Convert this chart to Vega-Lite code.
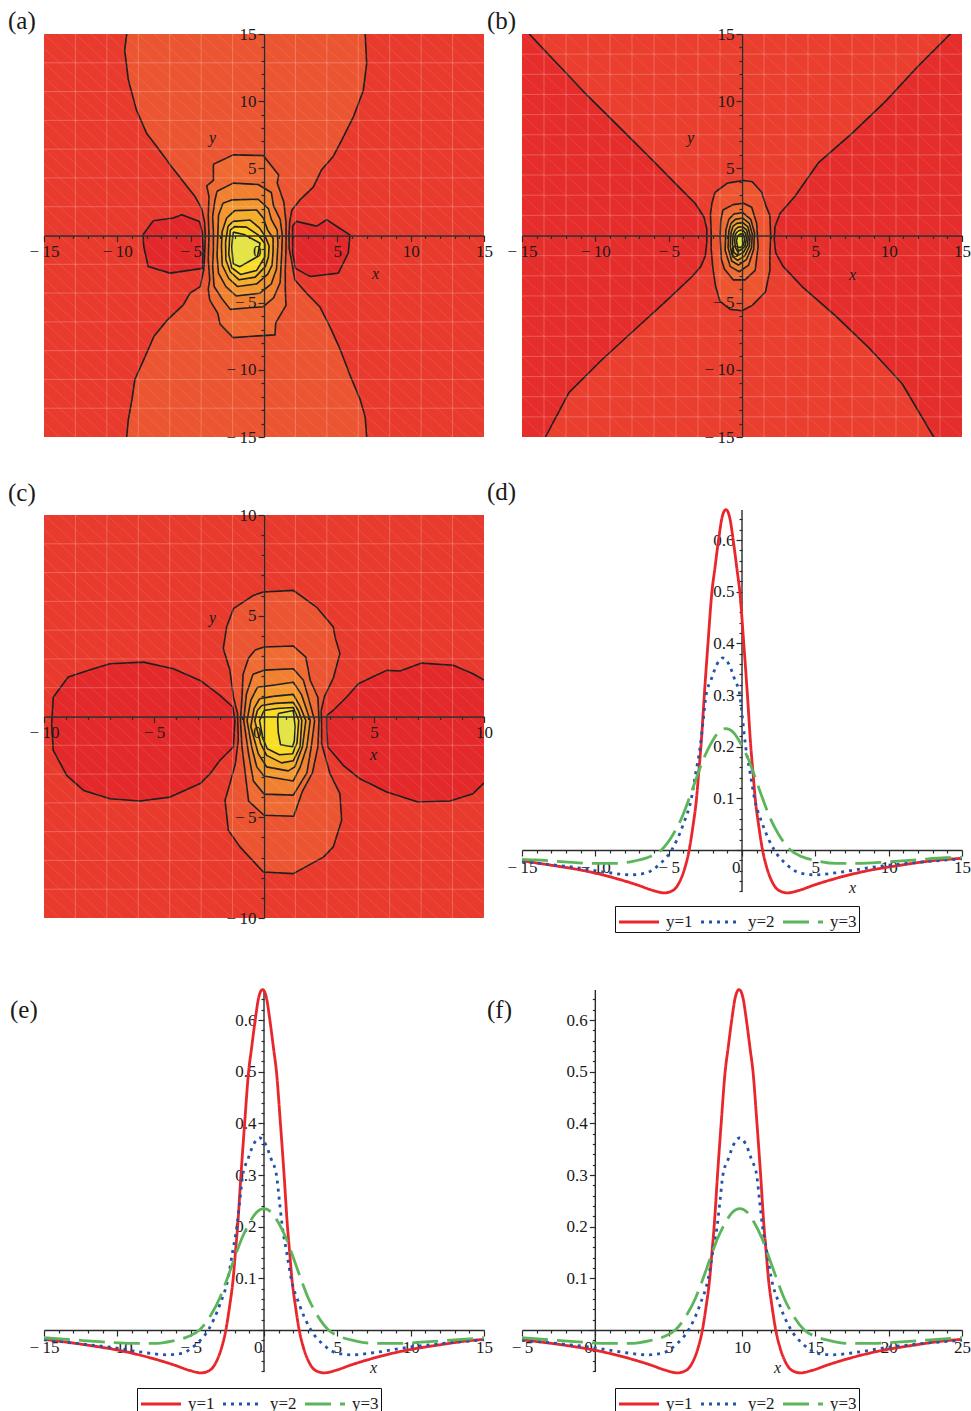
{
  "$schema": "https://vega.github.io/schema/vega-lite/v6.json",
  "padding": {"left": 8, "top": 9, "right": 2, "bottom": 2},
  "background": "white",
  "columns": 2,
  "spacing": {"row": 78, "column": 38},
  "bounds": "flush",
  "resolve": {
    "scale": {"fill": "independent", "color": "independent", "strokeDash": "independent"},
    "legend": {"color": "independent", "strokeDash": "independent", "fill": "independent"}
  },
  "config": {
    "font": "Liberation Serif",
    "view": {"stroke": null},
    "axis": {
      "grid": false, "labelFont": "Liberation Serif", "labelFontSize": 17, "labelColor": "#1a1a1a",
      "domainColor": "#2a2a2a", "tickColor": "#2a2a2a", "domainWidth": 1.4, "tickWidth": 1.2,
      "titleFont": "Liberation Serif", "titleFontStyle": "italic", "titleFontWeight": "normal",
      "titleFontSize": 16, "titleColor": "#1a1a1a", "titleAlign": "center", "titleBaseline": "middle"
    },
    "title": {"font": "Liberation Serif", "fontSize": 25, "fontWeight": "normal", "color": "#1a1a1a", "anchor": "start", "frame": "group", "baseline": "alphabetic"},
    "legend": {"labelFont": "Liberation Serif", "labelFontSize": 17, "labelColor": "#1a1a1a"}
  },
  "datasets": {
    "polyA": [
      {"p":"a01","b":"h","o":0,"x":-9.4,"y":16},{"p":"a01","b":"h","o":1,"x":-9.36,"y":15},{"p":"a01","b":"h","o":2,"x":-9.5,"y":13.8},{"p":"a01","b":"h","o":3,"x":-9.25,"y":11.6},{"p":"a01","b":"h","o":4,"x":-8.7,"y":9.35},{"p":"a01","b":"h","o":5,"x":-8.0,"y":7.6},{"p":"a01","b":"h","o":6,"x":-7.3,"y":6.6},{"p":"a01","b":"h","o":7,"x":-6.4,"y":5.26},{"p":"a01","b":"h","o":8,"x":-5.5,"y":4.0},{"p":"a01","b":"h","o":9,"x":-4.7,"y":2.9},{"p":"a01","b":"h","o":10,"x":-4.25,"y":2.0},{"p":"a01","b":"h","o":11,"x":-4.05,"y":1.0},{"p":"a01","b":"h","o":12,"x":-4.0,"y":0},{"p":"a01","b":"h","o":13,"x":-4.05,"y":-1.5},{"p":"a01","b":"h","o":14,"x":-4.1,"y":-2.5},{"p":"a01","b":"h","o":15,"x":-4.35,"y":-3.8},{"p":"a01","b":"h","o":16,"x":-5.05,"y":-4.3},{"p":"a01","b":"h","o":17,"x":-5.5,"y":-5.16},{"p":"a01","b":"h","o":18,"x":-6.6,"y":-6.3},{"p":"a01","b":"h","o":19,"x":-7.5,"y":-7.5},{"p":"a01","b":"h","o":20,"x":-8.2,"y":-9.25},{"p":"a01","b":"h","o":21,"x":-8.8,"y":-10.7},{"p":"a01","b":"h","o":22,"x":-9.0,"y":-12.2},{"p":"a01","b":"h","o":23,"x":-9.25,"y":-13.7},{"p":"a01","b":"h","o":24,"x":-9.36,"y":-15},{"p":"a01","b":"h","o":25,"x":-9.4,"y":-16},{"p":"a01","b":"h","o":26,"x":7.0,"y":-16},{"p":"a01","b":"h","o":27,"x":7.0,"y":-15},{"p":"a01","b":"h","o":28,"x":6.9,"y":-13.5},{"p":"a01","b":"h","o":29,"x":6.55,"y":-12.2},{"p":"a01","b":"h","o":30,"x":5.9,"y":-10.5},{"p":"a01","b":"h","o":31,"x":5.2,"y":-8.5},{"p":"a01","b":"h","o":32,"x":4.5,"y":-6.8},{"p":"a01","b":"h","o":33,"x":3.8,"y":-5.3},{"p":"a01","b":"h","o":34,"x":2.9,"y":-4.3},{"p":"a01","b":"h","o":35,"x":2.1,"y":-3.3},{"p":"a01","b":"h","o":36,"x":1.9,"y":-2.0},{"p":"a01","b":"h","o":37,"x":1.72,"y":-1.0},{"p":"a01","b":"h","o":38,"x":1.7,"y":0},{"p":"a01","b":"h","o":39,"x":1.75,"y":1.0},{"p":"a01","b":"h","o":40,"x":1.9,"y":1.9},{"p":"a01","b":"h","o":41,"x":2.45,"y":2.65},{"p":"a01","b":"h","o":42,"x":3.36,"y":3.6},{"p":"a01","b":"h","o":43,"x":3.93,"y":4.9},{"p":"a01","b":"h","o":44,"x":4.73,"y":5.9},{"p":"a01","b":"h","o":45,"x":5.3,"y":7.1},{"p":"a01","b":"h","o":46,"x":6.1,"y":8.85},{"p":"a01","b":"h","o":47,"x":6.77,"y":10.8},{"p":"a01","b":"h","o":48,"x":7.0,"y":12.8},{"p":"a01","b":"h","o":49,"x":6.9,"y":15},{"p":"a01","b":"h","o":50,"x":6.9,"y":16},{"p":"a01","b":"h","o":51,"x":-9.4,"y":16},
      {"p":"a02","b":"m","o":0,"x":-8.25,"y":0.05},{"p":"a02","b":"m","o":1,"x":-7.55,"y":1.1},{"p":"a02","b":"m","o":2,"x":-6.2,"y":1.3},{"p":"a02","b":"m","o":3,"x":-5.6,"y":1.55},{"p":"a02","b":"m","o":4,"x":-4.4,"y":1.05},{"p":"a02","b":"m","o":5,"x":-4.2,"y":0.2},{"p":"a02","b":"m","o":6,"x":-4.15,"y":-1.2},{"p":"a02","b":"m","o":7,"x":-4.2,"y":-2.45},{"p":"a02","b":"m","o":8,"x":-6.4,"y":-2.8},{"p":"a02","b":"m","o":9,"x":-7.9,"y":-2.3},{"p":"a02","b":"m","o":10,"x":-8.2,"y":-0.8},{"p":"a02","b":"m","o":11,"x":-8.25,"y":0.05},
      {"p":"a03","b":"m","o":0,"x":1.95,"y":0.7},{"p":"a03","b":"m","o":1,"x":2.2,"y":1.05},{"p":"a03","b":"m","o":2,"x":3.6,"y":0.7},{"p":"a03","b":"m","o":3,"x":4.27,"y":1.17},{"p":"a03","b":"m","o":4,"x":5.86,"y":0.05},{"p":"a03","b":"m","o":5,"x":5.75,"y":-1.3},{"p":"a03","b":"m","o":6,"x":5.07,"y":-2.8},{"p":"a03","b":"m","o":7,"x":3.14,"y":-3.05},{"p":"a03","b":"m","o":8,"x":2.15,"y":-2.45},{"p":"a03","b":"m","o":9,"x":1.95,"y":-1.3},{"p":"a03","b":"m","o":10,"x":1.95,"y":0.7},
      {"p":"a04","b":"r1","o":0,"x":-3.45,"y":5.3},{"p":"a04","b":"r1","o":1,"x":-2.1,"y":6.0},{"p":"a04","b":"r1","o":2,"x":-0.05,"y":5.95},{"p":"a04","b":"r1","o":3,"x":1.0,"y":4.5},{"p":"a04","b":"r1","o":4,"x":0.9,"y":3.9},{"p":"a04","b":"r1","o":5,"x":1.35,"y":2.5},{"p":"a04","b":"r1","o":6,"x":1.5,"y":1.0},{"p":"a04","b":"r1","o":7,"x":1.5,"y":-1.0},{"p":"a04","b":"r1","o":8,"x":1.45,"y":-2.5},{"p":"a04","b":"r1","o":9,"x":1.45,"y":-4.0},{"p":"a04","b":"r1","o":10,"x":1.5,"y":-5.2},{"p":"a04","b":"r1","o":11,"x":0.8,"y":-6.5},{"p":"a04","b":"r1","o":12,"x":0.75,"y":-7.4},{"p":"a04","b":"r1","o":13,"x":-0.8,"y":-7.5},{"p":"a04","b":"r1","o":14,"x":-2.1,"y":-7.6},{"p":"a04","b":"r1","o":15,"x":-3.0,"y":-6.6},{"p":"a04","b":"r1","o":16,"x":-3.15,"y":-5.8},{"p":"a04","b":"r1","o":17,"x":-3.7,"y":-4.8},{"p":"a04","b":"r1","o":18,"x":-3.8,"y":-4.0},{"p":"a04","b":"r1","o":19,"x":-3.7,"y":-3.3},{"p":"a04","b":"r1","o":20,"x":-3.8,"y":-1.8},{"p":"a04","b":"r1","o":21,"x":-3.75,"y":0},{"p":"a04","b":"r1","o":22,"x":-3.8,"y":1.5},{"p":"a04","b":"r1","o":23,"x":-3.75,"y":2.9},{"p":"a04","b":"r1","o":24,"x":-3.9,"y":3.7},{"p":"a04","b":"r1","o":25,"x":-3.45,"y":4.1},{"p":"a04","b":"r1","o":26,"x":-3.45,"y":5.3},
      {"p":"a05","b":"r2","o":0,"x":-3.2,"y":3.3},{"p":"a05","b":"r2","o":1,"x":-2.1,"y":3.9},{"p":"a05","b":"r2","o":2,"x":-0.4,"y":3.8},{"p":"a05","b":"r2","o":3,"x":0.5,"y":3.2},{"p":"a05","b":"r2","o":4,"x":0.65,"y":2.2},{"p":"a05","b":"r2","o":5,"x":1.1,"y":1.2},{"p":"a05","b":"r2","o":6,"x":1.25,"y":0},{"p":"a05","b":"r2","o":7,"x":1.2,"y":-1.5},{"p":"a05","b":"r2","o":8,"x":1.15,"y":-2.5},{"p":"a05","b":"r2","o":9,"x":1.1,"y":-3.5},{"p":"a05","b":"r2","o":10,"x":0.65,"y":-4.65},{"p":"a05","b":"r2","o":11,"x":-0.05,"y":-5.3},{"p":"a05","b":"r2","o":12,"x":-1.2,"y":-5.4},{"p":"a05","b":"r2","o":13,"x":-2.3,"y":-5.5},{"p":"a05","b":"r2","o":14,"x":-2.9,"y":-4.65},{"p":"a05","b":"r2","o":15,"x":-3.4,"y":-3.8},{"p":"a05","b":"r2","o":16,"x":-3.5,"y":-2.3},{"p":"a05","b":"r2","o":17,"x":-3.45,"y":-1.0},{"p":"a05","b":"r2","o":18,"x":-3.45,"y":0.3},{"p":"a05","b":"r2","o":19,"x":-3.5,"y":1.4},{"p":"a05","b":"r2","o":20,"x":-3.35,"y":2.6},{"p":"a05","b":"r2","o":21,"x":-3.2,"y":3.3},
      {"p":"a06","b":"r3","o":0,"x":-2.8,"y":2.4},{"p":"a06","b":"r3","o":1,"x":-2.2,"y":2.65},{"p":"a06","b":"r3","o":2,"x":-0.4,"y":2.7},{"p":"a06","b":"r3","o":3,"x":0.3,"y":2.0},{"p":"a06","b":"r3","o":4,"x":0.5,"y":1.2},{"p":"a06","b":"r3","o":5,"x":0.9,"y":0.4},{"p":"a06","b":"r3","o":6,"x":0.95,"y":-0.6},{"p":"a06","b":"r3","o":7,"x":0.9,"y":-1.6},{"p":"a06","b":"r3","o":8,"x":0.85,"y":-2.5},{"p":"a06","b":"r3","o":9,"x":0.5,"y":-3.6},{"p":"a06","b":"r3","o":10,"x":-0.3,"y":-4.3},{"p":"a06","b":"r3","o":11,"x":-1.9,"y":-4.5},{"p":"a06","b":"r3","o":12,"x":-2.6,"y":-3.8},{"p":"a06","b":"r3","o":13,"x":-3.1,"y":-2.8},{"p":"a06","b":"r3","o":14,"x":-3.2,"y":-1.5},{"p":"a06","b":"r3","o":15,"x":-3.15,"y":0},{"p":"a06","b":"r3","o":16,"x":-3.1,"y":1.5},{"p":"a06","b":"r3","o":17,"x":-2.8,"y":2.4},
      {"p":"a07","b":"r4","o":0,"x":-2.55,"y":1.3},{"p":"a07","b":"r4","o":1,"x":-2.0,"y":1.85},{"p":"a07","b":"r4","o":2,"x":-0.5,"y":1.9},{"p":"a07","b":"r4","o":3,"x":-0.05,"y":1.3},{"p":"a07","b":"r4","o":4,"x":0.25,"y":0.4},{"p":"a07","b":"r4","o":5,"x":0.62,"y":-0.2},{"p":"a07","b":"r4","o":6,"x":0.62,"y":-1.2},{"p":"a07","b":"r4","o":7,"x":0.55,"y":-2.2},{"p":"a07","b":"r4","o":8,"x":0.25,"y":-2.9},{"p":"a07","b":"r4","o":9,"x":-0.5,"y":-3.6},{"p":"a07","b":"r4","o":10,"x":-1.8,"y":-3.8},{"p":"a07","b":"r4","o":11,"x":-2.4,"y":-3.2},{"p":"a07","b":"r4","o":12,"x":-2.85,"y":-2.2},{"p":"a07","b":"r4","o":13,"x":-2.9,"y":-0.8},{"p":"a07","b":"r4","o":14,"x":-2.85,"y":0.3},{"p":"a07","b":"r4","o":15,"x":-2.55,"y":1.3},
      {"p":"a08","b":"r5","o":0,"x":-2.45,"y":0.7},{"p":"a08","b":"r5","o":1,"x":-2.1,"y":1.05},{"p":"a08","b":"r5","o":2,"x":-0.95,"y":1.15},{"p":"a08","b":"r5","o":3,"x":-0.3,"y":0.55},{"p":"a08","b":"r5","o":4,"x":0.1,"y":-0.1},{"p":"a08","b":"r5","o":5,"x":0.35,"y":-0.8},{"p":"a08","b":"r5","o":6,"x":0.3,"y":-1.6},{"p":"a08","b":"r5","o":7,"x":0.1,"y":-2.3},{"p":"a08","b":"r5","o":8,"x":-0.6,"y":-3.1},{"p":"a08","b":"r5","o":9,"x":-1.7,"y":-3.3},{"p":"a08","b":"r5","o":10,"x":-2.3,"y":-2.7},{"p":"a08","b":"r5","o":11,"x":-2.6,"y":-1.8},{"p":"a08","b":"r5","o":12,"x":-2.62,"y":-0.5},{"p":"a08","b":"r5","o":13,"x":-2.45,"y":0.7},
      {"p":"a09","b":"r6","o":0,"x":-2.3,"y":0.4},{"p":"a09","b":"r6","o":1,"x":-2.0,"y":0.66},{"p":"a09","b":"r6","o":2,"x":-1.2,"y":0.62},{"p":"a09","b":"r6","o":3,"x":-0.4,"y":0.05},{"p":"a09","b":"r6","o":4,"x":0.05,"y":-0.6},{"p":"a09","b":"r6","o":5,"x":0.05,"y":-1.6},{"p":"a09","b":"r6","o":6,"x":-0.5,"y":-2.6},{"p":"a09","b":"r6","o":7,"x":-1.6,"y":-2.9},{"p":"a09","b":"r6","o":8,"x":-2.2,"y":-2.4},{"p":"a09","b":"r6","o":9,"x":-2.4,"y":-1.4},{"p":"a09","b":"r6","o":10,"x":-2.35,"y":-0.3},{"p":"a09","b":"r6","o":11,"x":-2.3,"y":0.4},
      {"p":"a10","b":"r7","o":0,"x":-2.1,"y":0.25},{"p":"a10","b":"r7","o":1,"x":-1.3,"y":0.05},{"p":"a10","b":"r7","o":2,"x":-0.27,"y":-0.58},{"p":"a10","b":"r7","o":3,"x":-0.45,"y":-1.58},{"p":"a10","b":"r7","o":4,"x":-1.64,"y":-2.32},{"p":"a10","b":"r7","o":5,"x":-2.1,"y":-2.1},{"p":"a10","b":"r7","o":6,"x":-2.2,"y":-0.85},{"p":"a10","b":"r7","o":7,"x":-2.1,"y":0.25}
    ],
    "polyB": [
      {"p":"b01","b":"w","o":0,"x":-14.6,"y":16},{"p":"b01","b":"w","o":1,"x":-14.5,"y":15},{"p":"b01","b":"w","o":2,"x":-12.95,"y":13.2},{"p":"b01","b":"w","o":3,"x":-10.7,"y":10.6},{"p":"b01","b":"w","o":4,"x":-8.4,"y":8.1},{"p":"b01","b":"w","o":5,"x":-6.1,"y":5.6},{"p":"b01","b":"w","o":6,"x":-4.3,"y":3.6},{"p":"b01","b":"w","o":7,"x":-3.2,"y":2.4},{"p":"b01","b":"w","o":8,"x":-2.6,"y":1.4},{"p":"b01","b":"w","o":9,"x":-2.4,"y":0.5},{"p":"b01","b":"w","o":10,"x":-2.4,"y":-0.5},{"p":"b01","b":"w","o":11,"x":-2.5,"y":-1.5},{"p":"b01","b":"w","o":12,"x":-2.8,"y":-2.3},{"p":"b01","b":"w","o":13,"x":-3.4,"y":-3.05},{"p":"b01","b":"w","o":14,"x":-5.2,"y":-4.9},{"p":"b01","b":"w","o":15,"x":-7.3,"y":-7.0},{"p":"b01","b":"w","o":16,"x":-9.55,"y":-9.25},{"p":"b01","b":"w","o":17,"x":-11.8,"y":-11.7},{"p":"b01","b":"w","o":18,"x":-13.4,"y":-15},{"p":"b01","b":"w","o":19,"x":-13.9,"y":-16},{"p":"b01","b":"w","o":20,"x":13.5,"y":-16},{"p":"b01","b":"w","o":21,"x":13.07,"y":-15},{"p":"b01","b":"w","o":22,"x":10.9,"y":-11},{"p":"b01","b":"w","o":23,"x":8.6,"y":-8.3},{"p":"b01","b":"w","o":24,"x":6.4,"y":-6.0},{"p":"b01","b":"w","o":25,"x":4.1,"y":-3.8},{"p":"b01","b":"w","o":26,"x":2.8,"y":-2.3},{"p":"b01","b":"w","o":27,"x":2.3,"y":-1.3},{"p":"b01","b":"w","o":28,"x":2.2,"y":-0.3},{"p":"b01","b":"w","o":29,"x":2.25,"y":0.67},{"p":"b01","b":"w","o":30,"x":2.6,"y":1.66},{"p":"b01","b":"w","o":31,"x":3.6,"y":2.9},{"p":"b01","b":"w","o":32,"x":5.2,"y":5.4},{"p":"b01","b":"w","o":33,"x":7.5,"y":7.6},{"p":"b01","b":"w","o":34,"x":9.8,"y":10.0},{"p":"b01","b":"w","o":35,"x":12.0,"y":12.6},{"p":"b01","b":"w","o":36,"x":14.2,"y":15},{"p":"b01","b":"w","o":37,"x":14.6,"y":16},{"p":"b01","b":"w","o":38,"x":-14.6,"y":16},
      {"p":"b02","b":"r1","o":0,"x":-1.85,"y":3.2},{"p":"b02","b":"r1","o":1,"x":-1.0,"y":3.9},{"p":"b02","b":"r1","o":2,"x":0.1,"y":4.1},{"p":"b02","b":"r1","o":3,"x":0.7,"y":4.0},{"p":"b02","b":"r1","o":4,"x":1.35,"y":3.2},{"p":"b02","b":"r1","o":5,"x":1.6,"y":2.3},{"p":"b02","b":"r1","o":6,"x":1.9,"y":1.5},{"p":"b02","b":"r1","o":7,"x":1.95,"y":0},{"p":"b02","b":"r1","o":8,"x":1.9,"y":-1.5},{"p":"b02","b":"r1","o":9,"x":1.9,"y":-2.6},{"p":"b02","b":"r1","o":10,"x":1.6,"y":-4.2},{"p":"b02","b":"r1","o":11,"x":0.7,"y":-5.2},{"p":"b02","b":"r1","o":12,"x":0.0,"y":-5.6},{"p":"b02","b":"r1","o":13,"x":-0.8,"y":-5.5},{"p":"b02","b":"r1","o":14,"x":-1.5,"y":-4.9},{"p":"b02","b":"r1","o":15,"x":-1.8,"y":-3.8},{"p":"b02","b":"r1","o":16,"x":-2.0,"y":-2.3},{"p":"b02","b":"r1","o":17,"x":-2.1,"y":-1.0},{"p":"b02","b":"r1","o":18,"x":-2.1,"y":0.2},{"p":"b02","b":"r1","o":19,"x":-2.15,"y":1.6},{"p":"b02","b":"r1","o":20,"x":-2.05,"y":2.4},{"p":"b02","b":"r1","o":21,"x":-1.85,"y":3.2},
      {"p":"b03","b":"r2","o":0,"x":-1.3,"y":1.9},{"p":"b03","b":"r2","o":1,"x":-0.6,"y":2.3},{"p":"b03","b":"r2","o":2,"x":0.1,"y":2.4},{"p":"b03","b":"r2","o":3,"x":0.66,"y":2.1},{"p":"b03","b":"r2","o":4,"x":1.0,"y":0.9},{"p":"b03","b":"r2","o":5,"x":1.1,"y":-0.8},{"p":"b03","b":"r2","o":6,"x":0.9,"y":-2.6},{"p":"b03","b":"r2","o":7,"x":0.2,"y":-3.3},{"p":"b03","b":"r2","o":8,"x":-0.6,"y":-3.3},{"p":"b03","b":"r2","o":9,"x":-1.2,"y":-2.5},{"p":"b03","b":"r2","o":10,"x":-1.4,"y":-1.8},{"p":"b03","b":"r2","o":11,"x":-1.5,"y":-0.1},{"p":"b03","b":"r2","o":12,"x":-1.45,"y":1.1},{"p":"b03","b":"r2","o":13,"x":-1.3,"y":1.9},
      {"p":"b04","b":"r3","o":0,"x":-0.9,"y":1.2},{"p":"b04","b":"r3","o":1,"x":-0.55,"y":1.6},{"p":"b04","b":"r3","o":2,"x":0.05,"y":1.7},{"p":"b04","b":"r3","o":3,"x":0.6,"y":1.2},{"p":"b04","b":"r3","o":4,"x":0.85,"y":0.2},{"p":"b04","b":"r3","o":5,"x":0.8,"y":-1.0},{"p":"b04","b":"r3","o":6,"x":0.45,"y":-2.2},{"p":"b04","b":"r3","o":7,"x":-0.2,"y":-2.7},{"p":"b04","b":"r3","o":8,"x":-0.8,"y":-2.3},{"p":"b04","b":"r3","o":9,"x":-1.15,"y":-1.1},{"p":"b04","b":"r3","o":10,"x":-1.1,"y":0.4},{"p":"b04","b":"r3","o":11,"x":-0.9,"y":1.2},
      {"p":"b05","b":"r4","o":0,"x":-0.75,"y":0.9},{"p":"b05","b":"r4","o":1,"x":-0.45,"y":1.2},{"p":"b05","b":"r4","o":2,"x":0.05,"y":1.3},{"p":"b05","b":"r4","o":3,"x":0.5,"y":0.9},{"p":"b05","b":"r4","o":4,"x":0.7,"y":0.1},{"p":"b05","b":"r4","o":5,"x":0.65,"y":-0.9},{"p":"b05","b":"r4","o":6,"x":0.3,"y":-1.8},{"p":"b05","b":"r4","o":7,"x":-0.25,"y":-2.2},{"p":"b05","b":"r4","o":8,"x":-0.7,"y":-1.9},{"p":"b05","b":"r4","o":9,"x":-0.95,"y":-0.9},{"p":"b05","b":"r4","o":10,"x":-0.9,"y":0.3},{"p":"b05","b":"r4","o":11,"x":-0.75,"y":0.9},
      {"p":"b06","b":"r5","o":0,"x":-0.6,"y":0.7},{"p":"b06","b":"r5","o":1,"x":-0.35,"y":0.9},{"p":"b06","b":"r5","o":2,"x":0.05,"y":0.95},{"p":"b06","b":"r5","o":3,"x":0.4,"y":0.65},{"p":"b06","b":"r5","o":4,"x":0.55,"y":0.0},{"p":"b06","b":"r5","o":5,"x":0.5,"y":-0.8},{"p":"b06","b":"r5","o":6,"x":0.2,"y":-1.5},{"p":"b06","b":"r5","o":7,"x":-0.3,"y":-1.85},{"p":"b06","b":"r5","o":8,"x":-0.65,"y":-1.55},{"p":"b06","b":"r5","o":9,"x":-0.8,"y":-0.8},{"p":"b06","b":"r5","o":10,"x":-0.75,"y":0.2},{"p":"b06","b":"r5","o":11,"x":-0.6,"y":0.7},
      {"p":"b07","b":"r6","o":0,"x":-0.45,"y":0.45},{"p":"b07","b":"r6","o":1,"x":-0.25,"y":0.62},{"p":"b07","b":"r6","o":2,"x":0.05,"y":0.65},{"p":"b07","b":"r6","o":3,"x":0.32,"y":0.4},{"p":"b07","b":"r6","o":4,"x":0.42,"y":-0.1},{"p":"b07","b":"r6","o":5,"x":0.38,"y":-0.7},{"p":"b07","b":"r6","o":6,"x":0.1,"y":-1.25},{"p":"b07","b":"r6","o":7,"x":-0.3,"y":-1.5},{"p":"b07","b":"r6","o":8,"x":-0.55,"y":-1.25},{"p":"b07","b":"r6","o":9,"x":-0.65,"y":-0.65},{"p":"b07","b":"r6","o":10,"x":-0.6,"y":0.1},{"p":"b07","b":"r6","o":11,"x":-0.45,"y":0.45},
      {"p":"b08","b":"r7","o":0,"x":-0.3,"y":0.3},{"p":"b08","b":"r7","o":1,"x":-0.15,"y":0.38},{"p":"b08","b":"r7","o":2,"x":0.05,"y":0.4},{"p":"b08","b":"r7","o":3,"x":0.25,"y":0.15},{"p":"b08","b":"r7","o":4,"x":0.3,"y":-0.3},{"p":"b08","b":"r7","o":5,"x":0.2,"y":-0.8},{"p":"b08","b":"r7","o":6,"x":-0.05,"y":-1.05},{"p":"b08","b":"r7","o":7,"x":-0.3,"y":-1.2},{"p":"b08","b":"r7","o":8,"x":-0.45,"y":-0.9},{"p":"b08","b":"r7","o":9,"x":-0.5,"y":-0.4},{"p":"b08","b":"r7","o":10,"x":-0.45,"y":0.1},{"p":"b08","b":"r7","o":11,"x":-0.3,"y":0.3},
      {"p":"b09","b":"r8","o":0,"x":-0.3,"y":-0.05},{"p":"b09","b":"r8","o":1,"x":-0.1,"y":0.12},{"p":"b09","b":"r8","o":2,"x":0.1,"y":0.1},{"p":"b09","b":"r8","o":3,"x":0.18,"y":-0.3},{"p":"b09","b":"r8","o":4,"x":0.1,"y":-0.7},{"p":"b09","b":"r8","o":5,"x":-0.1,"y":-0.9},{"p":"b09","b":"r8","o":6,"x":-0.3,"y":-0.85},{"p":"b09","b":"r8","o":7,"x":-0.38,"y":-0.4},{"p":"b09","b":"r8","o":8,"x":-0.3,"y":-0.05}
    ],
    "polyC": [
      {"p":"c01","b":"m","o":0,"x":-9.58,"y":0.96},{"p":"c01","b":"m","o":1,"x":-8.9,"y":1.96},{"p":"c01","b":"m","o":2,"x":-7.9,"y":2.32},{"p":"c01","b":"m","o":3,"x":-7.0,"y":2.62},{"p":"c01","b":"m","o":4,"x":-5.48,"y":2.7},{"p":"c01","b":"m","o":5,"x":-4.12,"y":2.37},{"p":"c01","b":"m","o":6,"x":-2.9,"y":1.79},{"p":"c01","b":"m","o":7,"x":-2.0,"y":1.05},{"p":"c01","b":"m","o":8,"x":-1.42,"y":0.47},{"p":"c01","b":"m","o":9,"x":-1.32,"y":-0.19},{"p":"c01","b":"m","o":10,"x":-1.39,"y":-1.51},{"p":"c01","b":"m","o":11,"x":-2.0,"y":-2.17},{"p":"c01","b":"m","o":12,"x":-2.45,"y":-2.84},{"p":"c01","b":"m","o":13,"x":-2.9,"y":-3.33},{"p":"c01","b":"m","o":14,"x":-4.27,"y":-4.0},{"p":"c01","b":"m","o":15,"x":-5.64,"y":-4.19},{"p":"c01","b":"m","o":16,"x":-7.0,"y":-4.08},{"p":"c01","b":"m","o":17,"x":-8.2,"y":-3.67},{"p":"c01","b":"m","o":18,"x":-8.97,"y":-2.92},{"p":"c01","b":"m","o":19,"x":-9.58,"y":-1.68},{"p":"c01","b":"m","o":20,"x":-9.65,"y":-0.36},{"p":"c01","b":"m","o":21,"x":-9.58,"y":0.96},
      {"p":"c02","b":"m","o":0,"x":2.85,"y":0.05},{"p":"c02","b":"m","o":1,"x":3.15,"y":0.31},{"p":"c02","b":"m","o":2,"x":3.76,"y":0.97},{"p":"c02","b":"m","o":3,"x":4.29,"y":1.63},{"p":"c02","b":"m","o":4,"x":5.0,"y":2.0},{"p":"c02","b":"m","o":5,"x":5.58,"y":2.29},{"p":"c02","b":"m","o":6,"x":6.18,"y":2.26},{"p":"c02","b":"m","o":7,"x":7.17,"y":2.65},{"p":"c02","b":"m","o":8,"x":8.6,"y":2.54},{"p":"c02","b":"m","o":9,"x":9.5,"y":2.12},{"p":"c02","b":"m","o":10,"x":9.97,"y":1.83},{"p":"c02","b":"m","o":11,"x":11,"y":1.4},{"p":"c02","b":"m","o":12,"x":11,"y":-3.0},{"p":"c02","b":"m","o":13,"x":9.97,"y":-3.33},{"p":"c02","b":"m","o":14,"x":9.5,"y":-3.83},{"p":"c02","b":"m","o":15,"x":8.45,"y":-4.19},{"p":"c02","b":"m","o":16,"x":7.0,"y":-4.24},{"p":"c02","b":"m","o":17,"x":5.58,"y":-3.75},{"p":"c02","b":"m","o":18,"x":4.36,"y":-3.09},{"p":"c02","b":"m","o":19,"x":3.6,"y":-2.42},{"p":"c02","b":"m","o":20,"x":2.9,"y":-1.51},{"p":"c02","b":"m","o":21,"x":2.85,"y":-0.6},{"p":"c02","b":"m","o":22,"x":2.85,"y":0.05},
      {"p":"c03","b":"h","o":0,"x":-0.03,"y":6.18},{"p":"c03","b":"h","o":1,"x":1.33,"y":6.26},{"p":"c03","b":"h","o":2,"x":2.39,"y":5.43},{"p":"c03","b":"h","o":3,"x":3.15,"y":4.44},{"p":"c03","b":"h","o":4,"x":3.23,"y":3.95},{"p":"c03","b":"h","o":5,"x":3.45,"y":3.12},{"p":"c03","b":"h","o":6,"x":3.15,"y":1.9},{"p":"c03","b":"h","o":7,"x":2.75,"y":1.0},{"p":"c03","b":"h","o":8,"x":2.6,"y":0.3},{"p":"c03","b":"h","o":9,"x":2.62,"y":-0.5},{"p":"c03","b":"h","o":10,"x":2.62,"y":-1.35},{"p":"c03","b":"h","o":11,"x":3.0,"y":-2.84},{"p":"c03","b":"h","o":12,"x":3.45,"y":-3.83},{"p":"c03","b":"h","o":13,"x":3.53,"y":-5.15},{"p":"c03","b":"h","o":14,"x":3.15,"y":-6.47},{"p":"c03","b":"h","o":15,"x":2.7,"y":-6.98},{"p":"c03","b":"h","o":16,"x":1.33,"y":-7.8},{"p":"c03","b":"h","o":17,"x":-0.03,"y":-7.72},{"p":"c03","b":"h","o":18,"x":-1.09,"y":-6.47},{"p":"c03","b":"h","o":19,"x":-1.62,"y":-5.65},{"p":"c03","b":"h","o":20,"x":-1.77,"y":-4.16},{"p":"c03","b":"h","o":21,"x":-1.55,"y":-3.33},{"p":"c03","b":"h","o":22,"x":-1.3,"y":-2.34},{"p":"c03","b":"h","o":23,"x":-1.17,"y":-1.18},{"p":"c03","b":"h","o":24,"x":-1.2,"y":0.14},{"p":"c03","b":"h","o":25,"x":-1.39,"y":0.97},{"p":"c03","b":"h","o":26,"x":-1.55,"y":2.29},{"p":"c03","b":"h","o":27,"x":-1.85,"y":3.37},{"p":"c03","b":"h","o":28,"x":-1.7,"y":4.44},{"p":"c03","b":"h","o":29,"x":-1.39,"y":5.35},{"p":"c03","b":"h","o":30,"x":-0.48,"y":6.01},{"p":"c03","b":"h","o":31,"x":-0.03,"y":6.18},
      {"p":"c04","b":"r1","o":0,"x":-0.7,"y":2.9},{"p":"c04","b":"r1","o":1,"x":-0.4,"y":3.3},{"p":"c04","b":"r1","o":2,"x":0.0,"y":3.45},{"p":"c04","b":"r1","o":3,"x":1.33,"y":3.5},{"p":"c04","b":"r1","o":4,"x":1.9,"y":2.95},{"p":"c04","b":"r1","o":5,"x":2.1,"y":1.8},{"p":"c04","b":"r1","o":6,"x":2.45,"y":0.95},{"p":"c04","b":"r1","o":7,"x":2.5,"y":-0.2},{"p":"c04","b":"r1","o":8,"x":2.45,"y":-1.5},{"p":"c04","b":"r1","o":9,"x":2.2,"y":-2.8},{"p":"c04","b":"r1","o":10,"x":1.75,"y":-3.7},{"p":"c04","b":"r1","o":11,"x":1.35,"y":-4.95},{"p":"c04","b":"r1","o":12,"x":0.0,"y":-4.9},{"p":"c04","b":"r1","o":13,"x":-0.7,"y":-4.2},{"p":"c04","b":"r1","o":14,"x":-0.85,"y":-2.85},{"p":"c04","b":"r1","o":15,"x":-1.0,"y":-1.5},{"p":"c04","b":"r1","o":16,"x":-1.07,"y":-0.2},{"p":"c04","b":"r1","o":17,"x":-1.0,"y":0.95},{"p":"c04","b":"r1","o":18,"x":-0.95,"y":2.1},{"p":"c04","b":"r1","o":19,"x":-0.7,"y":2.9},
      {"p":"c05","b":"r2","o":0,"x":-0.5,"y":2.1},{"p":"c05","b":"r2","o":1,"x":0.0,"y":2.3},{"p":"c05","b":"r2","o":2,"x":1.33,"y":2.37},{"p":"c05","b":"r2","o":3,"x":1.79,"y":1.8},{"p":"c05","b":"r2","o":4,"x":2.0,"y":1.0},{"p":"c05","b":"r2","o":5,"x":2.3,"y":-0.2},{"p":"c05","b":"r2","o":6,"x":2.15,"y":-1.5},{"p":"c05","b":"r2","o":7,"x":1.95,"y":-2.8},{"p":"c05","b":"r2","o":8,"x":1.33,"y":-3.9},{"p":"c05","b":"r2","o":9,"x":0.0,"y":-3.85},{"p":"c05","b":"r2","o":10,"x":-0.48,"y":-3.2},{"p":"c05","b":"r2","o":11,"x":-0.7,"y":-1.85},{"p":"c05","b":"r2","o":12,"x":-0.92,"y":-0.2},{"p":"c05","b":"r2","o":13,"x":-0.8,"y":1.1},{"p":"c05","b":"r2","o":14,"x":-0.5,"y":2.1},
      {"p":"c06","b":"r3","o":0,"x":-0.3,"y":1.45},{"p":"c06","b":"r3","o":1,"x":0.4,"y":1.55},{"p":"c06","b":"r3","o":2,"x":1.33,"y":1.7},{"p":"c06","b":"r3","o":3,"x":1.7,"y":1.1},{"p":"c06","b":"r3","o":4,"x":2.1,"y":-0.2},{"p":"c06","b":"r3","o":5,"x":1.95,"y":-1.5},{"p":"c06","b":"r3","o":6,"x":1.65,"y":-2.5},{"p":"c06","b":"r3","o":7,"x":1.33,"y":-3.2},{"p":"c06","b":"r3","o":8,"x":0.0,"y":-2.95},{"p":"c06","b":"r3","o":9,"x":-0.33,"y":-2.5},{"p":"c06","b":"r3","o":10,"x":-0.56,"y":-1.5},{"p":"c06","b":"r3","o":11,"x":-0.77,"y":-0.2},{"p":"c06","b":"r3","o":12,"x":-0.6,"y":0.8},{"p":"c06","b":"r3","o":13,"x":-0.3,"y":1.45},
      {"p":"c07","b":"r4","o":0,"x":-0.2,"y":0.88},{"p":"c07","b":"r4","o":1,"x":0.4,"y":1.0},{"p":"c07","b":"r4","o":2,"x":1.33,"y":1.1},{"p":"c07","b":"r4","o":3,"x":1.64,"y":0.5},{"p":"c07","b":"r4","o":4,"x":1.9,"y":-0.2},{"p":"c07","b":"r4","o":5,"x":1.75,"y":-1.5},{"p":"c07","b":"r4","o":6,"x":1.4,"y":-2.5},{"p":"c07","b":"r4","o":7,"x":1.1,"y":-2.7},{"p":"c07","b":"r4","o":8,"x":0.12,"y":-2.5},{"p":"c07","b":"r4","o":9,"x":-0.26,"y":-1.85},{"p":"c07","b":"r4","o":10,"x":-0.6,"y":-0.5},{"p":"c07","b":"r4","o":11,"x":-0.45,"y":0.4},{"p":"c07","b":"r4","o":12,"x":-0.2,"y":0.88},
      {"p":"c08","b":"r5","o":0,"x":-0.1,"y":0.55},{"p":"c08","b":"r5","o":1,"x":0.5,"y":0.65},{"p":"c08","b":"r5","o":2,"x":1.33,"y":0.7},{"p":"c08","b":"r5","o":3,"x":1.56,"y":0.3},{"p":"c08","b":"r5","o":4,"x":1.72,"y":-0.2},{"p":"c08","b":"r5","o":5,"x":1.64,"y":-1.5},{"p":"c08","b":"r5","o":6,"x":1.33,"y":-2.2},{"p":"c08","b":"r5","o":7,"x":0.8,"y":-2.3},{"p":"c08","b":"r5","o":8,"x":0.12,"y":-1.93},{"p":"c08","b":"r5","o":9,"x":-0.15,"y":-1.35},{"p":"c08","b":"r5","o":10,"x":-0.42,"y":-0.2},{"p":"c08","b":"r5","o":11,"x":-0.3,"y":0.3},{"p":"c08","b":"r5","o":12,"x":-0.1,"y":0.55},
      {"p":"c09","b":"r6","o":0,"x":0.0,"y":0.3},{"p":"c09","b":"r6","o":1,"x":0.6,"y":0.4},{"p":"c09","b":"r6","o":2,"x":1.33,"y":0.45},{"p":"c09","b":"r6","o":3,"x":1.58,"y":-0.2},{"p":"c09","b":"r6","o":4,"x":1.5,"y":-1.3},{"p":"c09","b":"r6","o":5,"x":1.3,"y":-1.85},{"p":"c09","b":"r6","o":6,"x":0.7,"y":-1.9},{"p":"c09","b":"r6","o":7,"x":0.15,"y":-1.6},{"p":"c09","b":"r6","o":8,"x":-0.05,"y":-1.1},{"p":"c09","b":"r6","o":9,"x":-0.2,"y":-0.2},{"p":"c09","b":"r6","o":10,"x":0.0,"y":0.3},
      {"p":"c10","b":"r7","o":0,"x":0.65,"y":0.15},{"p":"c10","b":"r7","o":1,"x":1.1,"y":0.25},{"p":"c10","b":"r7","o":2,"x":1.33,"y":0.3},{"p":"c10","b":"r7","o":3,"x":1.42,"y":-0.5},{"p":"c10","b":"r7","o":4,"x":1.38,"y":-1.2},{"p":"c10","b":"r7","o":5,"x":1.3,"y":-1.5},{"p":"c10","b":"r7","o":6,"x":0.75,"y":-1.4},{"p":"c10","b":"r7","o":7,"x":0.65,"y":-0.8},{"p":"c10","b":"r7","o":8,"x":0.62,"y":-0.2},{"p":"c10","b":"r7","o":9,"x":0.65,"y":0.15}
    ],
    "gridA": [{"g":-12.857},{"g":-10.714},{"g":-8.571},{"g":-6.429},{"g":-4.286},{"g":-2.143},{"g":0},{"g":2.143},{"g":4.286},{"g":6.429},{"g":8.571},{"g":10.714},{"g":12.857}],
    "gridB": [{"g":-13.5},{"g":-12},{"g":-10.5},{"g":-9},{"g":-7.5},{"g":-6},{"g":-4.5},{"g":-3},{"g":-1.5},{"g":0},{"g":1.5},{"g":3},{"g":4.5},{"g":6},{"g":7.5},{"g":9},{"g":10.5},{"g":12},{"g":13.5}],
    "gridC": [{"g":-8.571},{"g":-7.143},{"g":-5.714},{"g":-4.286},{"g":-2.857},{"g":-1.429},{"g":0},{"g":1.429},{"g":2.857},{"g":4.286},{"g":5.714},{"g":7.143},{"g":8.571}],
    "seamA": [
      {"a":-13.929,"b":-43.929},{"a":-12.857,"b":-42.857},{"a":-11.786,"b":-41.786},{"a":-10.714,"b":-40.714},{"a":-9.643,"b":-39.643},{"a":-8.571,"b":-38.571},{"a":-7.5,"b":-37.5},{"a":-6.429,"b":-36.429},{"a":-5.357,"b":-35.357},{"a":-4.286,"b":-34.286},{"a":-3.214,"b":-33.214},{"a":-2.143,"b":-32.143},{"a":-1.071,"b":-31.071},{"a":0,"b":-30},{"a":1.071,"b":-28.929},{"a":2.143,"b":-27.857},{"a":3.214,"b":-26.786},{"a":4.286,"b":-25.714},{"a":5.357,"b":-24.643},{"a":6.429,"b":-23.571},{"a":7.5,"b":-22.5},{"a":8.571,"b":-21.429},{"a":9.643,"b":-20.357},{"a":10.714,"b":-19.286},{"a":11.786,"b":-18.214},{"a":12.857,"b":-17.143},{"a":13.929,"b":-16.071},{"a":15,"b":-15},{"a":16.071,"b":-13.929},{"a":17.143,"b":-12.857},{"a":18.214,"b":-11.786},{"a":19.286,"b":-10.714},{"a":20.357,"b":-9.643},{"a":21.429,"b":-8.571},{"a":22.5,"b":-7.5},{"a":23.571,"b":-6.429},{"a":24.643,"b":-5.357},{"a":25.714,"b":-4.286},{"a":26.786,"b":-3.214},{"a":27.857,"b":-2.143},{"a":28.929,"b":-1.071},{"a":30,"b":0},{"a":31.071,"b":1.071},{"a":32.143,"b":2.143},{"a":33.214,"b":3.214},{"a":34.286,"b":4.286},{"a":35.357,"b":5.357},{"a":36.429,"b":6.429},{"a":37.5,"b":7.5},{"a":38.571,"b":8.571},{"a":39.643,"b":9.643},{"a":40.714,"b":10.714},{"a":41.786,"b":11.786},{"a":42.857,"b":12.857},{"a":43.929,"b":13.929}
    ],
    "seamB": [
      {"a":-13.5,"b":-43.5},{"a":-12,"b":-42},{"a":-10.5,"b":-40.5},{"a":-9,"b":-39},{"a":-7.5,"b":-37.5},{"a":-6,"b":-36},{"a":-4.5,"b":-34.5},{"a":-3,"b":-33},{"a":-1.5,"b":-31.5},{"a":0,"b":-30},{"a":1.5,"b":-28.5},{"a":3,"b":-27},{"a":4.5,"b":-25.5},{"a":6,"b":-24},{"a":7.5,"b":-22.5},{"a":9,"b":-21},{"a":10.5,"b":-19.5},{"a":12,"b":-18},{"a":13.5,"b":-16.5},{"a":15,"b":-15},{"a":16.5,"b":-13.5},{"a":18,"b":-12},{"a":19.5,"b":-10.5},{"a":21,"b":-9},{"a":22.5,"b":-7.5},{"a":24,"b":-6},{"a":25.5,"b":-4.5},{"a":27,"b":-3},{"a":28.5,"b":-1.5},{"a":30,"b":0},{"a":31.5,"b":1.5},{"a":33,"b":3},{"a":34.5,"b":4.5},{"a":36,"b":6},{"a":37.5,"b":7.5},{"a":39,"b":9},{"a":40.5,"b":10.5},{"a":42,"b":12},{"a":43.5,"b":13.5}
    ],
    "seamC": [
      {"a":-9.286,"b":-29.286},{"a":-8.571,"b":-28.571},{"a":-7.857,"b":-27.857},{"a":-7.143,"b":-27.143},{"a":-6.429,"b":-26.429},{"a":-5.714,"b":-25.714},{"a":-5,"b":-25},{"a":-4.286,"b":-24.286},{"a":-3.571,"b":-23.571},{"a":-2.857,"b":-22.857},{"a":-2.143,"b":-22.143},{"a":-1.429,"b":-21.429},{"a":-0.714,"b":-20.714},{"a":0,"b":-20},{"a":0.714,"b":-19.286},{"a":1.429,"b":-18.571},{"a":2.143,"b":-17.857},{"a":2.857,"b":-17.143},{"a":3.571,"b":-16.429},{"a":4.286,"b":-15.714},{"a":5,"b":-15},{"a":5.714,"b":-14.286},{"a":6.429,"b":-13.571},{"a":7.143,"b":-12.857},{"a":7.857,"b":-12.143},{"a":8.571,"b":-11.429},{"a":9.286,"b":-10.714},{"a":10,"b":-10},{"a":10.714,"b":-9.286},{"a":11.429,"b":-8.571},{"a":12.143,"b":-7.857},{"a":12.857,"b":-7.143},{"a":13.571,"b":-6.429},{"a":14.286,"b":-5.714},{"a":15,"b":-5},{"a":15.714,"b":-4.286},{"a":16.429,"b":-3.571},{"a":17.143,"b":-2.857},{"a":17.857,"b":-2.143},{"a":18.571,"b":-1.429},{"a":19.286,"b":-0.714},{"a":20,"b":0},{"a":20.714,"b":0.714},{"a":21.429,"b":1.429},{"a":22.143,"b":2.143},{"a":22.857,"b":2.857},{"a":23.571,"b":3.571},{"a":24.286,"b":4.286},{"a":25,"b":5},{"a":25.714,"b":5.714},{"a":26.429,"b":6.429},{"a":27.143,"b":7.143},{"a":27.857,"b":7.857},{"a":28.571,"b":8.571},{"a":29.286,"b":9.286}
    ],
    "lineD": [
      {"s":"y=1","x":-15,"y":-0.021},{"s":"y=1","x":-13.1,"y":-0.029},{"s":"y=1","x":-10.6,"y":-0.041},{"s":"y=1","x":-8.6,"y":-0.055},{"s":"y=1","x":-7.1,"y":-0.068},{"s":"y=1","x":-6.1,"y":-0.078},{"s":"y=1","x":-5.3,"y":-0.083},{"s":"y=1","x":-4.7,"y":-0.078},{"s":"y=1","x":-4.3,"y":-0.064},{"s":"y=1","x":-3.9,"y":-0.035},{"s":"y=1","x":-3.6,"y":0},{"s":"y=1","x":-3.35,"y":0.045},{"s":"y=1","x":-3.1,"y":0.1},{"s":"y=1","x":-2.95,"y":0.15},{"s":"y=1","x":-2.8,"y":0.2},{"s":"y=1","x":-2.57,"y":0.3},{"s":"y=1","x":-2.32,"y":0.4},{"s":"y=1","x":-2.05,"y":0.5},{"s":"y=1","x":-1.85,"y":0.545},{"s":"y=1","x":-1.6,"y":0.6},{"s":"y=1","x":-1.35,"y":0.645},{"s":"y=1","x":-1.1,"y":0.659},{"s":"y=1","x":-0.85,"y":0.645},{"s":"y=1","x":-0.6,"y":0.6},{"s":"y=1","x":-0.35,"y":0.545},{"s":"y=1","x":-0.15,"y":0.5},{"s":"y=1","x":0.12,"y":0.4},{"s":"y=1","x":0.37,"y":0.3},{"s":"y=1","x":0.6,"y":0.2},{"s":"y=1","x":0.75,"y":0.15},{"s":"y=1","x":0.9,"y":0.1},{"s":"y=1","x":1.15,"y":0.045},{"s":"y=1","x":1.4,"y":0},{"s":"y=1","x":1.7,"y":-0.035},{"s":"y=1","x":2.1,"y":-0.064},{"s":"y=1","x":2.5,"y":-0.078},{"s":"y=1","x":3.1,"y":-0.083},{"s":"y=1","x":3.9,"y":-0.078},{"s":"y=1","x":4.9,"y":-0.068},{"s":"y=1","x":6.4,"y":-0.055},{"s":"y=1","x":8.4,"y":-0.041},{"s":"y=1","x":10.9,"y":-0.029},{"s":"y=1","x":12.9,"y":-0.021},{"s":"y=1","x":15,"y":-0.016},
      {"s":"y=2","x":-15,"y":-0.022},{"s":"y=2","x":-13.8,"y":-0.026},{"s":"y=2","x":-11.3,"y":-0.034},{"s":"y=2","x":-9.3,"y":-0.043},{"s":"y=2","x":-7.6,"y":-0.048},{"s":"y=2","x":-6.6,"y":-0.045},{"s":"y=2","x":-5.6,"y":-0.027},{"s":"y=2","x":-4.8,"y":0},{"s":"y=2","x":-4.0,"y":0.05},{"s":"y=2","x":-3.45,"y":0.1},{"s":"y=2","x":-3.15,"y":0.15},{"s":"y=2","x":-2.85,"y":0.2},{"s":"y=2","x":-2.65,"y":0.25},{"s":"y=2","x":-2.45,"y":0.3},{"s":"y=2","x":-2.1,"y":0.33},{"s":"y=2","x":-1.7,"y":0.36},{"s":"y=2","x":-1.3,"y":0.372},{"s":"y=2","x":-0.9,"y":0.36},{"s":"y=2","x":-0.5,"y":0.33},{"s":"y=2","x":-0.15,"y":0.3},{"s":"y=2","x":0.05,"y":0.25},{"s":"y=2","x":0.25,"y":0.2},{"s":"y=2","x":0.55,"y":0.15},{"s":"y=2","x":0.85,"y":0.1},{"s":"y=2","x":1.4,"y":0.05},{"s":"y=2","x":2.2,"y":0},{"s":"y=2","x":3.0,"y":-0.027},{"s":"y=2","x":4.0,"y":-0.045},{"s":"y=2","x":5.0,"y":-0.048},{"s":"y=2","x":6.7,"y":-0.043},{"s":"y=2","x":8.7,"y":-0.034},{"s":"y=2","x":11.2,"y":-0.026},{"s":"y=2","x":15,"y":-0.017},
      {"s":"y=3","x":-15,"y":-0.018},{"s":"y=3","x":-14.1,"y":-0.019},{"s":"y=3","x":-12.1,"y":-0.023},{"s":"y=3","x":-10.1,"y":-0.026},{"s":"y=3","x":-8.6,"y":-0.026},{"s":"y=3","x":-7.3,"y":-0.021},{"s":"y=3","x":-6.3,"y":-0.013},{"s":"y=3","x":-5.5,"y":0},{"s":"y=3","x":-4.7,"y":0.03},{"s":"y=3","x":-4.1,"y":0.063},{"s":"y=3","x":-3.6,"y":0.1},{"s":"y=3","x":-3.1,"y":0.14},{"s":"y=3","x":-2.6,"y":0.178},{"s":"y=3","x":-2.1,"y":0.207},{"s":"y=3","x":-1.6,"y":0.228},{"s":"y=3","x":-1.1,"y":0.235},{"s":"y=3","x":-0.6,"y":0.228},{"s":"y=3","x":-0.1,"y":0.207},{"s":"y=3","x":0.4,"y":0.178},{"s":"y=3","x":0.9,"y":0.14},{"s":"y=3","x":1.4,"y":0.1},{"s":"y=3","x":1.9,"y":0.063},{"s":"y=3","x":2.5,"y":0.03},{"s":"y=3","x":3.3,"y":0},{"s":"y=3","x":4.1,"y":-0.013},{"s":"y=3","x":5.1,"y":-0.021},{"s":"y=3","x":6.4,"y":-0.026},{"s":"y=3","x":7.9,"y":-0.026},{"s":"y=3","x":9.9,"y":-0.023},{"s":"y=3","x":11.9,"y":-0.019},{"s":"y=3","x":13.9,"y":-0.015},{"s":"y=3","x":15,"y":-0.014}
    ],
    "lineE": [
      {"s":"y=1","x":-15,"y":-0.018},{"s":"y=1","x":-12.1,"y":-0.029},{"s":"y=1","x":-9.6,"y":-0.041},{"s":"y=1","x":-7.6,"y":-0.055},{"s":"y=1","x":-6.1,"y":-0.068},{"s":"y=1","x":-5.1,"y":-0.078},{"s":"y=1","x":-4.3,"y":-0.083},{"s":"y=1","x":-3.7,"y":-0.078},{"s":"y=1","x":-3.3,"y":-0.064},{"s":"y=1","x":-2.9,"y":-0.035},{"s":"y=1","x":-2.6,"y":0},{"s":"y=1","x":-2.35,"y":0.045},{"s":"y=1","x":-2.1,"y":0.1},{"s":"y=1","x":-1.95,"y":0.15},{"s":"y=1","x":-1.8,"y":0.2},{"s":"y=1","x":-1.57,"y":0.3},{"s":"y=1","x":-1.32,"y":0.4},{"s":"y=1","x":-1.05,"y":0.5},{"s":"y=1","x":-0.85,"y":0.545},{"s":"y=1","x":-0.6,"y":0.6},{"s":"y=1","x":-0.35,"y":0.645},{"s":"y=1","x":-0.1,"y":0.659},{"s":"y=1","x":0.15,"y":0.645},{"s":"y=1","x":0.4,"y":0.6},{"s":"y=1","x":0.65,"y":0.545},{"s":"y=1","x":0.85,"y":0.5},{"s":"y=1","x":1.12,"y":0.4},{"s":"y=1","x":1.37,"y":0.3},{"s":"y=1","x":1.6,"y":0.2},{"s":"y=1","x":1.75,"y":0.15},{"s":"y=1","x":1.9,"y":0.1},{"s":"y=1","x":2.15,"y":0.045},{"s":"y=1","x":2.4,"y":0},{"s":"y=1","x":2.7,"y":-0.035},{"s":"y=1","x":3.1,"y":-0.064},{"s":"y=1","x":3.5,"y":-0.078},{"s":"y=1","x":4.1,"y":-0.083},{"s":"y=1","x":4.9,"y":-0.078},{"s":"y=1","x":5.9,"y":-0.068},{"s":"y=1","x":7.4,"y":-0.055},{"s":"y=1","x":9.4,"y":-0.041},{"s":"y=1","x":11.9,"y":-0.029},{"s":"y=1","x":13.9,"y":-0.021},{"s":"y=1","x":15,"y":-0.018},
      {"s":"y=2","x":-15,"y":-0.019},{"s":"y=2","x":-12.8,"y":-0.026},{"s":"y=2","x":-10.3,"y":-0.034},{"s":"y=2","x":-8.3,"y":-0.043},{"s":"y=2","x":-6.6,"y":-0.048},{"s":"y=2","x":-5.6,"y":-0.045},{"s":"y=2","x":-4.6,"y":-0.027},{"s":"y=2","x":-3.8,"y":0},{"s":"y=2","x":-3.0,"y":0.05},{"s":"y=2","x":-2.45,"y":0.1},{"s":"y=2","x":-2.15,"y":0.15},{"s":"y=2","x":-1.85,"y":0.2},{"s":"y=2","x":-1.65,"y":0.25},{"s":"y=2","x":-1.45,"y":0.3},{"s":"y=2","x":-1.1,"y":0.33},{"s":"y=2","x":-0.7,"y":0.36},{"s":"y=2","x":-0.3,"y":0.372},{"s":"y=2","x":0.1,"y":0.36},{"s":"y=2","x":0.5,"y":0.33},{"s":"y=2","x":0.85,"y":0.3},{"s":"y=2","x":1.05,"y":0.25},{"s":"y=2","x":1.25,"y":0.2},{"s":"y=2","x":1.55,"y":0.15},{"s":"y=2","x":1.85,"y":0.1},{"s":"y=2","x":2.4,"y":0.05},{"s":"y=2","x":3.2,"y":0},{"s":"y=2","x":4.0,"y":-0.027},{"s":"y=2","x":5.0,"y":-0.045},{"s":"y=2","x":6.0,"y":-0.048},{"s":"y=2","x":7.7,"y":-0.043},{"s":"y=2","x":9.7,"y":-0.034},{"s":"y=2","x":12.2,"y":-0.026},{"s":"y=2","x":15,"y":-0.019},
      {"s":"y=3","x":-15,"y":-0.015},{"s":"y=3","x":-13,"y":-0.019},{"s":"y=3","x":-11,"y":-0.023},{"s":"y=3","x":-9,"y":-0.026},{"s":"y=3","x":-7.5,"y":-0.026},{"s":"y=3","x":-6.2,"y":-0.021},{"s":"y=3","x":-5.2,"y":-0.013},{"s":"y=3","x":-4.4,"y":0},{"s":"y=3","x":-3.6,"y":0.03},{"s":"y=3","x":-3.0,"y":0.063},{"s":"y=3","x":-2.5,"y":0.1},{"s":"y=3","x":-2.0,"y":0.14},{"s":"y=3","x":-1.5,"y":0.178},{"s":"y=3","x":-1.0,"y":0.207},{"s":"y=3","x":-0.5,"y":0.228},{"s":"y=3","x":0,"y":0.235},{"s":"y=3","x":0.5,"y":0.228},{"s":"y=3","x":1.0,"y":0.207},{"s":"y=3","x":1.5,"y":0.178},{"s":"y=3","x":2.0,"y":0.14},{"s":"y=3","x":2.5,"y":0.1},{"s":"y=3","x":3.0,"y":0.063},{"s":"y=3","x":3.6,"y":0.03},{"s":"y=3","x":4.4,"y":0},{"s":"y=3","x":5.2,"y":-0.013},{"s":"y=3","x":6.2,"y":-0.021},{"s":"y=3","x":7.5,"y":-0.026},{"s":"y=3","x":9,"y":-0.026},{"s":"y=3","x":11,"y":-0.023},{"s":"y=3","x":13,"y":-0.019},{"s":"y=3","x":15,"y":-0.015}
    ],
    "lineF": [
      {"s":"y=1","x":-5,"y":-0.019},{"s":"y=1","x":-2.2,"y":-0.029},{"s":"y=1","x":0.3,"y":-0.041},{"s":"y=1","x":2.3,"y":-0.055},{"s":"y=1","x":3.8,"y":-0.068},{"s":"y=1","x":4.8,"y":-0.078},{"s":"y=1","x":5.6,"y":-0.083},{"s":"y=1","x":6.2,"y":-0.078},{"s":"y=1","x":6.6,"y":-0.064},{"s":"y=1","x":7.0,"y":-0.035},{"s":"y=1","x":7.3,"y":0},{"s":"y=1","x":7.55,"y":0.045},{"s":"y=1","x":7.8,"y":0.1},{"s":"y=1","x":7.95,"y":0.15},{"s":"y=1","x":8.1,"y":0.2},{"s":"y=1","x":8.33,"y":0.3},{"s":"y=1","x":8.58,"y":0.4},{"s":"y=1","x":8.85,"y":0.5},{"s":"y=1","x":9.05,"y":0.545},{"s":"y=1","x":9.3,"y":0.6},{"s":"y=1","x":9.55,"y":0.645},{"s":"y=1","x":9.8,"y":0.659},{"s":"y=1","x":10.05,"y":0.645},{"s":"y=1","x":10.3,"y":0.6},{"s":"y=1","x":10.55,"y":0.545},{"s":"y=1","x":10.75,"y":0.5},{"s":"y=1","x":11.02,"y":0.4},{"s":"y=1","x":11.27,"y":0.3},{"s":"y=1","x":11.5,"y":0.2},{"s":"y=1","x":11.65,"y":0.15},{"s":"y=1","x":11.8,"y":0.1},{"s":"y=1","x":12.05,"y":0.045},{"s":"y=1","x":12.3,"y":0},{"s":"y=1","x":12.6,"y":-0.035},{"s":"y=1","x":13.0,"y":-0.064},{"s":"y=1","x":13.4,"y":-0.078},{"s":"y=1","x":14.0,"y":-0.083},{"s":"y=1","x":14.8,"y":-0.078},{"s":"y=1","x":15.8,"y":-0.068},{"s":"y=1","x":17.3,"y":-0.055},{"s":"y=1","x":19.3,"y":-0.041},{"s":"y=1","x":21.8,"y":-0.029},{"s":"y=1","x":23.8,"y":-0.021},{"s":"y=1","x":25,"y":-0.018},
      {"s":"y=2","x":-5,"y":-0.02},{"s":"y=2","x":-2.65,"y":-0.026},{"s":"y=2","x":-0.15,"y":-0.034},{"s":"y=2","x":1.85,"y":-0.043},{"s":"y=2","x":3.55,"y":-0.048},{"s":"y=2","x":4.55,"y":-0.045},{"s":"y=2","x":5.55,"y":-0.027},{"s":"y=2","x":6.35,"y":0},{"s":"y=2","x":7.15,"y":0.05},{"s":"y=2","x":7.7,"y":0.1},{"s":"y=2","x":8.0,"y":0.15},{"s":"y=2","x":8.3,"y":0.2},{"s":"y=2","x":8.5,"y":0.25},{"s":"y=2","x":8.7,"y":0.3},{"s":"y=2","x":9.05,"y":0.33},{"s":"y=2","x":9.45,"y":0.36},{"s":"y=2","x":9.85,"y":0.372},{"s":"y=2","x":10.25,"y":0.36},{"s":"y=2","x":10.65,"y":0.33},{"s":"y=2","x":11.0,"y":0.3},{"s":"y=2","x":11.2,"y":0.25},{"s":"y=2","x":11.4,"y":0.2},{"s":"y=2","x":11.7,"y":0.15},{"s":"y=2","x":12.0,"y":0.1},{"s":"y=2","x":12.55,"y":0.05},{"s":"y=2","x":13.35,"y":0},{"s":"y=2","x":14.15,"y":-0.027},{"s":"y=2","x":15.15,"y":-0.045},{"s":"y=2","x":16.15,"y":-0.048},{"s":"y=2","x":17.85,"y":-0.043},{"s":"y=2","x":19.85,"y":-0.034},{"s":"y=2","x":22.35,"y":-0.026},{"s":"y=2","x":25,"y":-0.02},
      {"s":"y=3","x":-5,"y":-0.015},{"s":"y=3","x":-3.15,"y":-0.019},{"s":"y=3","x":-1.15,"y":-0.023},{"s":"y=3","x":0.85,"y":-0.026},{"s":"y=3","x":2.35,"y":-0.026},{"s":"y=3","x":3.65,"y":-0.021},{"s":"y=3","x":4.65,"y":-0.013},{"s":"y=3","x":5.45,"y":0},{"s":"y=3","x":6.25,"y":0.03},{"s":"y=3","x":6.85,"y":0.063},{"s":"y=3","x":7.35,"y":0.1},{"s":"y=3","x":7.85,"y":0.14},{"s":"y=3","x":8.35,"y":0.178},{"s":"y=3","x":8.85,"y":0.207},{"s":"y=3","x":9.35,"y":0.228},{"s":"y=3","x":9.85,"y":0.235},{"s":"y=3","x":10.35,"y":0.228},{"s":"y=3","x":10.85,"y":0.207},{"s":"y=3","x":11.35,"y":0.178},{"s":"y=3","x":11.85,"y":0.14},{"s":"y=3","x":12.35,"y":0.1},{"s":"y=3","x":12.85,"y":0.063},{"s":"y=3","x":13.45,"y":0.03},{"s":"y=3","x":14.25,"y":0},{"s":"y=3","x":15.05,"y":-0.013},{"s":"y=3","x":16.05,"y":-0.021},{"s":"y=3","x":17.35,"y":-0.026},{"s":"y=3","x":18.85,"y":-0.026},{"s":"y=3","x":20.85,"y":-0.023},{"s":"y=3","x":22.85,"y":-0.019},{"s":"y=3","x":25,"y":-0.015}
    ]
  },
  "concat": [
    {
      "width": 440, "height": 403,
      "title": {"text": "(a)", "dx": -36, "offset": 3, "dy": 12},
      "view": {"fill": "#e93b2d", "stroke": null},
      "resolve": {"axis": {"x": "independent", "y": "independent"}},
      "layer": [
        {
          "data": {"name": "polyA"},
          "mark": {"type": "line", "clip": true, "stroke": "#1e1e1e", "strokeWidth": 1.6, "strokeJoin": "round"},
          "encoding": {
            "x": {"field": "x", "type": "quantitative", "scale": {"domain": [-15, 15], "nice": false, "zero": false},
              "axis": {"values": [-15,-14,-13,-12,-11,-10,-9,-8,-7,-6,-5,-4,-3,-2,-1,0,1,2,3,4,5,6,7,8,9,10,11,12,13,14,15], "orient": "bottom", "offset": -201.5, "labelOverlap": false, "labelFlush": false, "labelBound": false,
                "labelExpr": "datum.value % 5 !== 0 ? '' : datum.value === 0 ? '0' : datum.value < 0 ? '−\u2009' + (-datum.value) : '' + datum.value",
                "labelAlign": {"condition": {"test": "datum.value === 0", "value": "right"}, "value": "center"},
                "labelOffset": {"condition": {"test": "datum.value === 0", "value": -3}, "value": 0},
                "tickSize": {"condition": {"test": "datum.value % 5 === 0", "value": 6}, "value": 3},
                "labelPadding": 2, "title": "x", "titleX": 331, "titleY": 38, "zindex": 2}},
            "y": {"field": "y", "type": "quantitative", "scale": {"domain": [-15, 15], "nice": false, "zero": false},
              "axis": {"values": [-15,-14,-13,-12,-11,-10,-9,-8,-7,-6,-5,-4,-3,-2,-1,0,1,2,3,4,5,6,7,8,9,10,11,12,13,14,15], "orient": "left", "offset": -220, "labelOverlap": false, "labelFlush": false, "labelBound": false,
                "labelExpr": "datum.value % 5 !== 0 || datum.value === 0 ? '' : datum.value < 0 ? '−\u2009' + (-datum.value) : '' + datum.value",
                "tickSize": {"condition": {"test": "datum.value % 5 === 0", "value": 6}, "value": 3},
                "labelPadding": 2, "title": "y", "titleX": -52, "titleY": 103, "titleAngle": 0, "zindex": 2}},
            "order": {"field": "o", "type": "quantitative"},
            "detail": {"field": "p"},
            "fill": {"field": "b", "type": "nominal", "legend": null,
              "scale": {"domain": ["h","m","r1","r2","r3","r4","r5","r6","r7"], "range": ["#ec5532","#e2282b","#ef6a33","#f18031","#f3962f","#f5ad2c","#f7c42a","#f9dc26","#e5e446"]}}
          }
        },
        {"data": {"name": "gridA"}, "mark": {"type": "rule", "color": "#ffffff", "opacity": 0.22, "strokeWidth": 1}, "encoding": {"x": {"field": "g", "type": "quantitative", "axis": null}}},
        {"data": {"name": "gridA"}, "mark": {"type": "rule", "color": "#ffffff", "opacity": 0.22, "strokeWidth": 1}, "encoding": {"y": {"field": "g", "type": "quantitative", "axis": null}}},
        {"data": {"name": "seamA"}, "mark": {"type": "rule", "clip": true, "color": "#ffffff", "opacity": 0.13, "strokeWidth": 0.8},
          "encoding": {"x": {"datum": -15, "axis": null}, "x2": {"datum": 15}, "y": {"field": "a", "type": "quantitative", "axis": null}, "y2": {"field": "b"}}}
      ]
    },
    {
      "width": 440, "height": 403,
      "title": {"text": "(b)", "dx": -35, "offset": 3, "dy": 12},
      "view": {"fill": "#e52e2b", "stroke": null},
      "resolve": {"axis": {"x": "independent", "y": "independent"}},
      "layer": [
        {
          "data": {"name": "polyB"},
          "mark": {"type": "line", "clip": true, "stroke": "#1e1e1e", "strokeWidth": 1.6, "strokeJoin": "round"},
          "encoding": {
            "x": {"field": "x", "type": "quantitative", "scale": {"domain": [-15, 15], "nice": false, "zero": false},
              "axis": {"values": [-15,-14,-13,-12,-11,-10,-9,-8,-7,-6,-5,-4,-3,-2,-1,0,1,2,3,4,5,6,7,8,9,10,11,12,13,14,15], "orient": "bottom", "offset": -201.5, "labelOverlap": false, "labelFlush": false, "labelBound": false,
                "labelExpr": "datum.value % 5 !== 0 ? '' : datum.value === 0 ? '0' : datum.value < 0 ? '−\u2009' + (-datum.value) : '' + datum.value",
                "labelAlign": {"condition": {"test": "datum.value === 0", "value": "right"}, "value": "center"},
                "labelOffset": {"condition": {"test": "datum.value === 0", "value": -3}, "value": 0},
                "tickSize": {"condition": {"test": "datum.value % 5 === 0", "value": 6}, "value": 3},
                "labelPadding": 2, "title": "x", "titleX": 330, "titleY": 39, "zindex": 2}},
            "y": {"field": "y", "type": "quantitative", "scale": {"domain": [-15, 15], "nice": false, "zero": false},
              "axis": {"values": [-15,-14,-13,-12,-11,-10,-9,-8,-7,-6,-5,-4,-3,-2,-1,0,1,2,3,4,5,6,7,8,9,10,11,12,13,14,15], "orient": "left", "offset": -220, "labelOverlap": false, "labelFlush": false, "labelBound": false,
                "labelExpr": "datum.value % 5 !== 0 || datum.value === 0 ? '' : datum.value < 0 ? '−\u2009' + (-datum.value) : '' + datum.value",
                "tickSize": {"condition": {"test": "datum.value % 5 === 0", "value": 6}, "value": 3},
                "labelPadding": 2, "title": "y", "titleX": -52, "titleY": 103, "titleAngle": 0, "zindex": 2}},
            "order": {"field": "o", "type": "quantitative"},
            "detail": {"field": "p"},
            "fill": {"field": "b", "type": "nominal", "legend": null,
              "scale": {"domain": ["w","r1","r2","r3","r4","r5","r6","r7","r8"], "range": ["#ea3e2e","#ed5531","#ef6b32","#f1812f","#f3972d","#f5ad2b","#f7c428","#f8db25","#e4e443"]}}
          }
        },
        {"data": {"name": "gridB"}, "mark": {"type": "rule", "color": "#ffffff", "opacity": 0.22, "strokeWidth": 1}, "encoding": {"x": {"field": "g", "type": "quantitative", "axis": null}}},
        {"data": {"name": "gridB"}, "mark": {"type": "rule", "color": "#ffffff", "opacity": 0.22, "strokeWidth": 1}, "encoding": {"y": {"field": "g", "type": "quantitative", "axis": null}}},
        {"data": {"name": "seamB"}, "mark": {"type": "rule", "clip": true, "color": "#ffffff", "opacity": 0.13, "strokeWidth": 0.8},
          "encoding": {"x": {"datum": -15, "axis": null}, "x2": {"datum": 15}, "y": {"field": "a", "type": "quantitative", "axis": null}, "y2": {"field": "b"}}}
      ]
    },
    {
      "width": 440, "height": 403,
      "title": {"text": "(c)", "dx": -36, "offset": 16, "dy": 16},
      "view": {"fill": "#e93b2d", "stroke": null},
      "resolve": {"axis": {"x": "independent", "y": "independent"}},
      "layer": [
        {
          "data": {"name": "polyC"},
          "mark": {"type": "line", "clip": true, "stroke": "#1e1e1e", "strokeWidth": 1.6, "strokeJoin": "round"},
          "encoding": {
            "x": {"field": "x", "type": "quantitative", "scale": {"domain": [-10, 10], "nice": false, "zero": false},
              "axis": {"values": [-10,-9,-8,-7,-6,-5,-4,-3,-2,-1,0,1,2,3,4,5,6,7,8,9,10], "orient": "bottom", "offset": -201.5, "labelOverlap": false, "labelFlush": false, "labelBound": false,
                "labelExpr": "datum.value % 5 !== 0 ? '' : datum.value === 0 ? '0' : datum.value < 0 ? '−\u2009' + (-datum.value) : '' + datum.value",
                "labelAlign": {"condition": {"test": "datum.value === 0", "value": "right"}, "value": "center"},
                "labelOffset": {"condition": {"test": "datum.value === 0", "value": -3}, "value": 0},
                "tickSize": {"condition": {"test": "datum.value % 5 === 0", "value": 6}, "value": 3},
                "labelPadding": 2, "title": "x", "titleX": 329, "titleY": 38, "zindex": 2}},
            "y": {"field": "y", "type": "quantitative", "scale": {"domain": [-10, 10], "nice": false, "zero": false},
              "axis": {"values": [-10,-9,-8,-7,-6,-5,-4,-3,-2,-1,0,1,2,3,4,5,6,7,8,9,10], "orient": "left", "offset": -220, "labelOverlap": false, "labelFlush": false, "labelBound": false,
                "labelExpr": "datum.value % 5 !== 0 || datum.value === 0 ? '' : datum.value < 0 ? '−\u2009' + (-datum.value) : '' + datum.value",
                "tickSize": {"condition": {"test": "datum.value % 5 === 0", "value": 6}, "value": 3},
                "labelPadding": 2, "title": "y", "titleX": -52, "titleY": 102, "titleAngle": 0, "zindex": 2}},
            "order": {"field": "o", "type": "quantitative"},
            "detail": {"field": "p"},
            "fill": {"field": "b", "type": "nominal", "legend": null,
              "scale": {"domain": ["m","h","r1","r2","r3","r4","r5","r6","r7"], "range": ["#e4292b","#ec5532","#ef6b33","#f18131","#f3972e","#f5ad2b","#f7c429","#f9dd24","#e4e446"]}}
          }
        },
        {"data": {"name": "gridC"}, "mark": {"type": "rule", "color": "#ffffff", "opacity": 0.22, "strokeWidth": 1}, "encoding": {"x": {"field": "g", "type": "quantitative", "axis": null}}},
        {"data": {"name": "gridC"}, "mark": {"type": "rule", "color": "#ffffff", "opacity": 0.22, "strokeWidth": 1}, "encoding": {"y": {"field": "g", "type": "quantitative", "axis": null}}},
        {"data": {"name": "seamC"}, "mark": {"type": "rule", "clip": true, "color": "#ffffff", "opacity": 0.13, "strokeWidth": 0.8},
          "encoding": {"x": {"datum": -10, "axis": null}, "x2": {"datum": 10}, "y": {"field": "a", "type": "quantitative", "axis": null}, "y2": {"field": "b"}}}
      ]
    },
    {
      "width": 440, "height": 403,
      "title": {"text": "(d)", "dx": -35, "offset": 16, "dy": 17},
      "resolve": {"axis": {"x": "independent", "y": "independent"}},
      "layer": [
        {
          "data": {"values": [{"x": 0, "lo": -0.081, "hi": 0.658}]},
          "mark": {"type": "rule", "color": "#2a2a2a", "strokeWidth": 1.4},
          "encoding": {
            "x": {"field": "x", "type": "quantitative", "scale": {"domain": [-15, 15], "nice": false, "zero": false},
              "axis": {"values": [-15,-14,-13,-12,-11,-10,-9,-8,-7,-6,-5,-4,-3,-2,-1,0,1,2,3,4,5,6,7,8,9,10,11,12,13,14,15], "orient": "bottom", "offset": -68, "labelOverlap": false, "labelFlush": false, "labelBound": false,
                "labelExpr": "datum.value % 5 !== 0 ? '' : datum.value === 0 ? '0' : datum.value < 0 ? '−\u2009' + (-datum.value) : '' + datum.value",
                "labelAlign": {"condition": {"test": "datum.value === 0", "value": "right"}, "value": "center"},
                "labelOffset": {"condition": {"test": "datum.value === 0", "value": -2}, "value": 0},
                "tickSize": {"condition": {"test": "datum.value % 5 === 0", "value": 6}, "value": 3},
                "labelPadding": 3, "title": "x", "titleX": 330, "titleY": 37}},
            "y": {"field": "lo", "type": "quantitative", "scale": {"domain": [-0.1316, 0.6485], "nice": false, "zero": false},
              "axis": {"values": [-0.08,-0.06,-0.04,-0.02,0,0.02,0.04,0.06,0.08,0.1,0.12,0.14,0.16,0.18,0.2,0.22,0.24,0.26,0.28,0.3,0.32,0.34,0.36,0.38,0.4,0.42,0.44,0.46,0.48,0.5,0.52,0.54,0.56,0.58,0.6,0.62,0.64], "orient": "left", "offset": -220, "domain": false, "labelOverlap": false, "labelFlush": false, "labelBound": false,
                "labelExpr": "datum.value > 0.05 && abs(datum.value * 10 - round(datum.value * 10)) < 0.001 ? format(datum.value, '.1f') : ''",
                "tickSize": {"condition": {"test": "abs(datum.value * 10 - round(datum.value * 10)) < 0.001", "value": 6}, "value": 3},
                "labelPadding": 2, "title": null}},
            "y2": {"field": "hi"}
          }
        },
        {
          "data": {"name": "lineD"},
          "mark": {"type": "line", "interpolate": "monotone", "strokeWidth": 2.8, "strokeCap": "butt"},
          "encoding": {
            "x": {"field": "x", "type": "quantitative", "axis": null},
            "y": {"field": "y", "type": "quantitative", "axis": null},
            "color": {"field": "s", "type": "nominal", "scale": {"domain": ["y=1","y=2","y=3"], "range": ["#e8262b","#2453a8","#5bb55a"]},
              "legend": {"orient": "none", "legendX": 93, "legendY": 391, "direction": "horizontal", "title": null, "symbolType": "M-1.6,0H1.6", "symbolSize": 625, "symbolOffset": 8, "symbolStrokeWidth": 3, "strokeColor": "#111111", "padding": 2, "columnPadding": 2, "labelOffset": 13}},
            "strokeDash": {"field": "s", "type": "nominal", "scale": {"domain": ["y=1","y=2","y=3"], "range": [[1,0],[3,5],[26,9]]},
              "legend": {"orient": "none", "legendX": 93, "legendY": 391, "direction": "horizontal", "title": null, "symbolType": "M-1.6,0H1.6", "symbolSize": 625, "symbolOffset": 8, "symbolStrokeWidth": 3, "strokeColor": "#111111", "padding": 2, "columnPadding": 2, "labelOffset": 13}}
          }
        }
      ]
    },
    {
      "width": 440, "height": 388,
      "title": {"text": "(e)", "dx": -34, "offset": 0, "dy": 39},
      "resolve": {"axis": {"x": "independent", "y": "independent"}},
      "layer": [
        {
          "data": {"values": [{"x": 0, "lo": -0.081, "hi": 0.658}]},
          "mark": {"type": "rule", "color": "#2a2a2a", "strokeWidth": 1.4},
          "encoding": {
            "x": {"field": "x", "type": "quantitative", "scale": {"domain": [-15, 15], "nice": false, "zero": false},
              "axis": {"values": [-15,-14,-13,-12,-11,-10,-9,-8,-7,-6,-5,-4,-3,-2,-1,0,1,2,3,4,5,6,7,8,9,10,11,12,13,14,15], "orient": "bottom", "offset": -54, "labelOverlap": false, "labelFlush": false, "labelBound": false,
                "labelExpr": "datum.value % 5 !== 0 ? '' : datum.value === 0 ? '0' : datum.value < 0 ? '−\u2009' + (-datum.value) : '' + datum.value",
                "labelAlign": {"condition": {"test": "datum.value === 0", "value": "right"}, "value": "center"},
                "labelOffset": {"condition": {"test": "datum.value === 0", "value": -2}, "value": 0},
                "tickSize": {"condition": {"test": "datum.value % 5 === 0", "value": 6}, "value": 3},
                "labelPadding": 3, "title": "x", "titleX": 329, "titleY": 37}},
            "y": {"field": "lo", "type": "quantitative", "scale": {"domain": [-0.1045, 0.6465], "nice": false, "zero": false},
              "axis": {"values": [-0.08,-0.06,-0.04,-0.02,0,0.02,0.04,0.06,0.08,0.1,0.12,0.14,0.16,0.18,0.2,0.22,0.24,0.26,0.28,0.3,0.32,0.34,0.36,0.38,0.4,0.42,0.44,0.46,0.48,0.5,0.52,0.54,0.56,0.58,0.6,0.62,0.64], "orient": "left", "offset": -220, "domain": false, "labelOverlap": false, "labelFlush": false, "labelBound": false,
                "labelExpr": "datum.value > 0.05 && abs(datum.value * 10 - round(datum.value * 10)) < 0.001 ? format(datum.value, '.1f') : ''",
                "tickSize": {"condition": {"test": "abs(datum.value * 10 - round(datum.value * 10)) < 0.001", "value": 6}, "value": 3},
                "labelPadding": 2, "title": null}},
            "y2": {"field": "hi"}
          }
        },
        {
          "data": {"name": "lineE"},
          "mark": {"type": "line", "interpolate": "monotone", "strokeWidth": 2.8, "strokeCap": "butt"},
          "encoding": {
            "x": {"field": "x", "type": "quantitative", "axis": null},
            "y": {"field": "y", "type": "quantitative", "axis": null},
            "color": {"field": "s", "type": "nominal", "scale": {"domain": ["y=1","y=2","y=3"], "range": ["#e8262b","#2453a8","#5bb55a"]},
              "legend": {"orient": "none", "legendX": 93, "legendY": 392, "direction": "horizontal", "title": null, "symbolType": "M-1.6,0H1.6", "symbolSize": 625, "symbolOffset": 8, "symbolStrokeWidth": 3, "strokeColor": "#111111", "padding": 2, "columnPadding": 2, "labelOffset": 13}},
            "strokeDash": {"field": "s", "type": "nominal", "scale": {"domain": ["y=1","y=2","y=3"], "range": [[1,0],[3,5],[26,9]]},
              "legend": {"orient": "none", "legendX": 93, "legendY": 392, "direction": "horizontal", "title": null, "symbolType": "M-1.6,0H1.6", "symbolSize": 625, "symbolOffset": 8, "symbolStrokeWidth": 3, "strokeColor": "#111111", "padding": 2, "columnPadding": 2, "labelOffset": 13}}
          }
        }
      ]
    },
    {
      "width": 440, "height": 388,
      "title": {"text": "(f)", "dx": -35, "offset": 0, "dy": 39},
      "resolve": {"axis": {"x": "independent", "y": "independent"}},
      "layer": [
        {
          "data": {"values": [{"x": 0, "lo": -0.081, "hi": 0.658}]},
          "mark": {"type": "rule", "color": "#2a2a2a", "strokeWidth": 1.4},
          "encoding": {
            "x": {"field": "x", "type": "quantitative", "scale": {"domain": [-5, 25], "nice": false, "zero": false},
              "axis": {"values": [-5,-4,-3,-2,-1,0,1,2,3,4,5,6,7,8,9,10,11,12,13,14,15,16,17,18,19,20,21,22,23,24,25], "orient": "bottom", "offset": -54, "labelOverlap": false, "labelFlush": false, "labelBound": false,
                "labelExpr": "datum.value % 5 !== 0 ? '' : datum.value === 0 ? '0' : datum.value < 0 ? '−\u2009' + (-datum.value) : '' + datum.value",
                "labelAlign": {"condition": {"test": "datum.value === 0", "value": "right"}, "value": "center"},
                "labelOffset": {"condition": {"test": "datum.value === 0", "value": -3}, "value": 0},
                "tickSize": {"condition": {"test": "datum.value % 5 === 0", "value": 6}, "value": 3},
                "labelPadding": 3, "title": "x", "titleX": 255, "titleY": 37}},
            "y": {"field": "lo", "type": "quantitative", "scale": {"domain": [-0.1045, 0.6465], "nice": false, "zero": false},
              "axis": {"values": [-0.08,-0.06,-0.04,-0.02,0,0.02,0.04,0.06,0.08,0.1,0.12,0.14,0.16,0.18,0.2,0.22,0.24,0.26,0.28,0.3,0.32,0.34,0.36,0.38,0.4,0.42,0.44,0.46,0.48,0.5,0.52,0.54,0.56,0.58,0.6,0.62,0.64], "orient": "left", "offset": -73.33, "domain": false, "labelOverlap": false, "labelFlush": false, "labelBound": false,
                "labelExpr": "datum.value > 0.05 && abs(datum.value * 10 - round(datum.value * 10)) < 0.001 ? format(datum.value, '.1f') : ''",
                "tickSize": {"condition": {"test": "abs(datum.value * 10 - round(datum.value * 10)) < 0.001", "value": 6}, "value": 3},
                "labelPadding": 2, "title": null}},
            "y2": {"field": "hi"}
          }
        },
        {
          "data": {"name": "lineF"},
          "mark": {"type": "line", "interpolate": "monotone", "strokeWidth": 2.8, "strokeCap": "butt"},
          "encoding": {
            "x": {"field": "x", "type": "quantitative", "axis": null},
            "y": {"field": "y", "type": "quantitative", "axis": null},
            "color": {"field": "s", "type": "nominal", "scale": {"domain": ["y=1","y=2","y=3"], "range": ["#e8262b","#2453a8","#5bb55a"]},
              "legend": {"orient": "none", "legendX": 93, "legendY": 392, "direction": "horizontal", "title": null, "symbolType": "M-1.6,0H1.6", "symbolSize": 625, "symbolOffset": 8, "symbolStrokeWidth": 3, "strokeColor": "#111111", "padding": 2, "columnPadding": 2, "labelOffset": 13}},
            "strokeDash": {"field": "s", "type": "nominal", "scale": {"domain": ["y=1","y=2","y=3"], "range": [[1,0],[3,5],[26,9]]},
              "legend": {"orient": "none", "legendX": 93, "legendY": 392, "direction": "horizontal", "title": null, "symbolType": "M-1.6,0H1.6", "symbolSize": 625, "symbolOffset": 8, "symbolStrokeWidth": 3, "strokeColor": "#111111", "padding": 2, "columnPadding": 2, "labelOffset": 13}}
          }
        }
      ]
    }
  ]
}
